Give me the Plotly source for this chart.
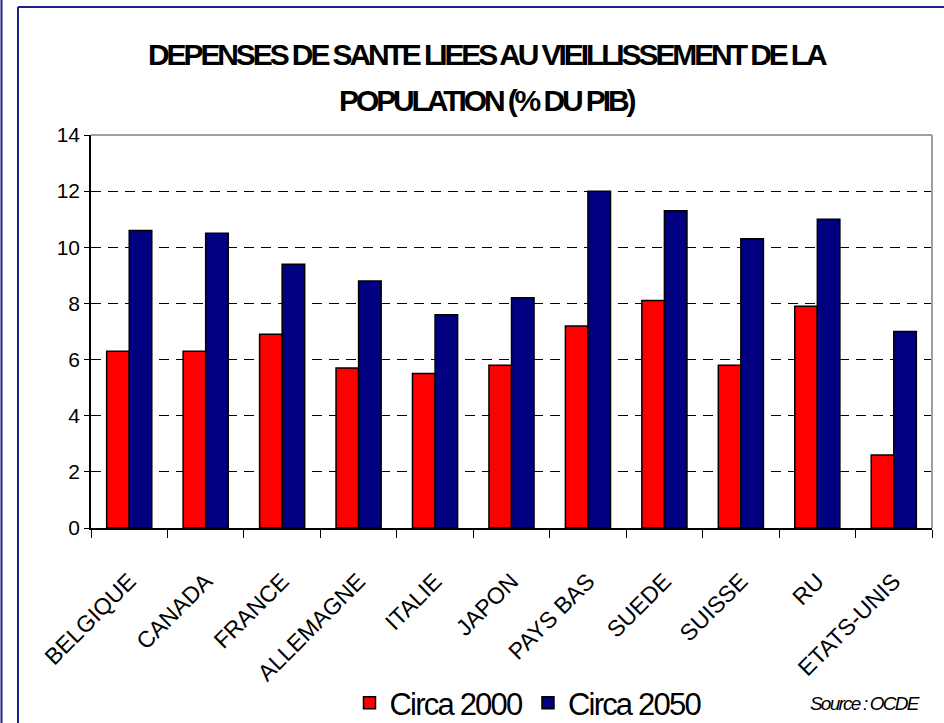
import plotly.graph_objects as go

categories = ["BELGIQUE", "CANADA", "FRANCE", "ALLEMAGNE", "ITALIE", "JAPON",
              "PAYS BAS", "SUEDE", "SUISSE", "RU", "ETATS-UNIS"]
circa_2000 = [6.3, 6.3, 6.9, 5.7, 5.5, 5.8, 7.2, 8.1, 5.8, 7.9, 2.6]
circa_2050 = [10.6, 10.5, 9.4, 8.8, 7.6, 8.2, 12.0, 11.3, 10.3, 11.0, 7.0]
series_names = ["Circa 2000", "Circa 2050"]
y_ticks = [0, 2, 4, 6, 8, 10, 12, 14]
title_lines = ["DEPENSES DE SANTE LIEES AU VIEILLISSEMENT DE LA",
               "POPULATION (% DU PIB)"]
source_text = "Source : OCDE"

FONT = "Liberation Sans, Arial, sans-serif"
W, H = 944, 723
L, R, T, B = 91, 12, 135, 195
pw, ph = W - L - R, H - T - B


def px_x(p):
    return (p - L) / pw


def px_y(p):
    return (H - B - p) / ph


def tight(s, sp):
    return f"<span style='letter-spacing:{sp}px'>{s}</span>"


fig = go.Figure()
fig.add_trace(go.Bar(x=categories, y=circa_2000, name=tight(series_names[0], -1.8),
                     marker=dict(color="#ff0000", line=dict(color="black", width=1.5))))
fig.add_trace(go.Bar(x=categories, y=circa_2050, name=tight(series_names[1], -1.8),
                     marker=dict(color="#000080", line=dict(color="black", width=1.5))))

fig.update_layout(
    template="none",
    width=W, height=H,
    margin=dict(l=L, r=R, t=T, b=B, autoexpand=False),
    paper_bgcolor="white", plot_bgcolor="white",
    barmode="group", bargap=0.41, bargroupgap=0,
    font=dict(family=FONT, color="black"),
    showlegend=True,
    legend=dict(orientation="h", x=px_x(528), xanchor="center",
                y=px_y(703), yanchor="middle",
                font=dict(size=31, family=FONT, color="black"),
                itemwidth=30, tracegroupgap=0, bgcolor="rgba(0,0,0,0)"),
    xaxis=dict(showline=True, linecolor="black", linewidth=1.5,
               ticks="outside", tickson="boundaries", ticklen=8,
               tickcolor="black", tickwidth=1,
               tickangle=-45, tickfont=dict(size=23, family=FONT),
               ticklabelstandoff=29,
               showgrid=False, automargin=False),
    yaxis=dict(range=[0, 14], tickvals=y_ticks, showline=True,
               linecolor="black", linewidth=1.5, ticks="outside", ticklen=5,
               tickcolor="black", tickwidth=1,
               tickfont=dict(size=21, family=FONT),
               showgrid=True, gridcolor="black", gridwidth=1,
               griddash="10px,7px", zeroline=False, automargin=False),
)

annos = [
    dict(text=tight(title_lines[0], -3.1), x=px_x(487), y=px_y(55)),
    dict(text=tight(title_lines[1], -3.1), x=px_x(487), y=px_y(100)),
]
for a in annos:
    fig.add_annotation(xref="paper", yref="paper", xanchor="center",
                       yanchor="middle", showarrow=False,
                       font=dict(size=30, family=FONT, color="black",
                                 weight="bold"), **a)

fig.add_annotation(xref="paper", yref="paper", x=px_x(922), y=px_y(703),
                   xanchor="right", yanchor="middle", showarrow=False,
                   text=tight(source_text, -1.8),
                   font=dict(size=19, family=FONT, color="black", style="italic"))

navy = "#1f1f88"
shapes = [
    dict(type="line", xref="paper", yref="paper", x0=0, x1=1, y0=1, y1=1,
         line=dict(color="#a0a0a0", width=2)),
    dict(type="line", xref="paper", yref="paper", x0=1, x1=1, y0=0, y1=1,
         line=dict(color="#a0a0a0", width=2)),
    dict(type="line", xref="paper", yref="paper", x0=px_x(1.5), x1=px_x(1.5),
         y0=px_y(0), y1=px_y(H), line=dict(color=navy, width=2)),
    dict(type="line", xref="paper", yref="paper", x0=px_x(18), x1=px_x(18),
         y0=px_y(7), y1=px_y(H), line=dict(color=navy, width=2)),
    dict(type="line", xref="paper", yref="paper", x0=px_x(18), x1=px_x(W),
         y0=px_y(7), y1=px_y(7), line=dict(color=navy, width=2)),
]
fig.update_layout(shapes=shapes)

fig.write_html("out.html", config={"displayModeBar": False},
               post_script="document.body.style.margin='0';"
                           "document.body.style.overflow='hidden';")
